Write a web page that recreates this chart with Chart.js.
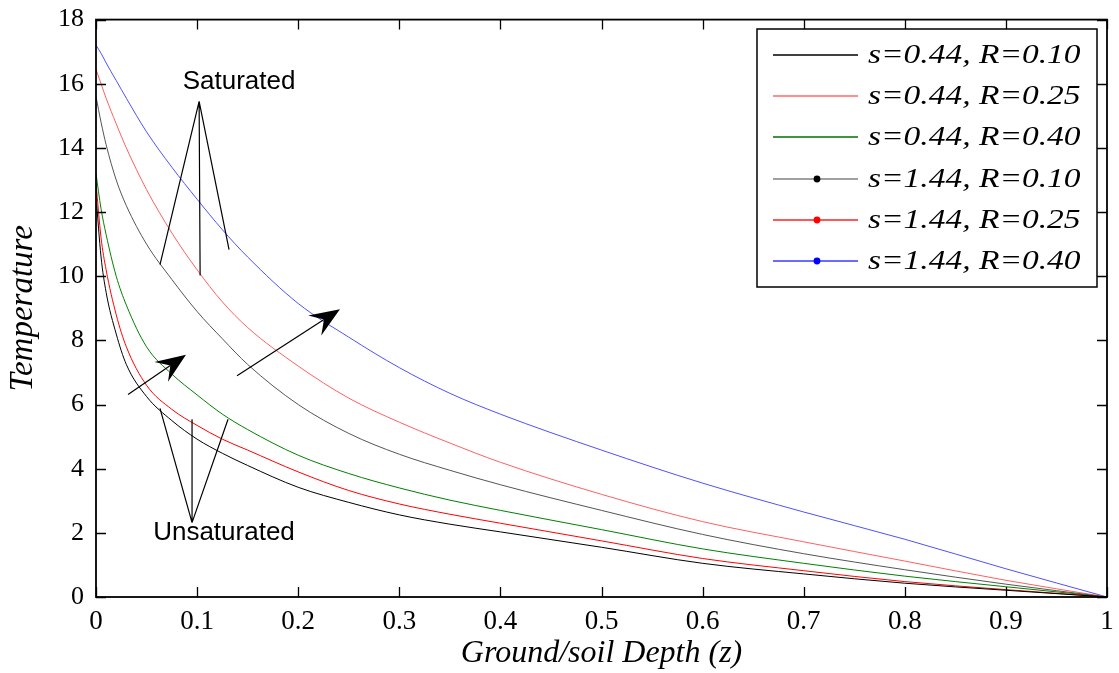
<!DOCTYPE html>
<html><head><meta charset="utf-8">
<script src="https://cdn.jsdelivr.net/npm/chart.js@4.4.1/dist/chart.umd.min.js"></script>
<style>html,body{margin:0;padding:0;background:#fff;} #wrap{width:1119px;height:673px;}</style>
</head><body><div id="wrap"><canvas id="c" width="1119" height="673"></canvas></div>
<script>
// ---- data ----
const depth = [0, 0.005, 0.01, 0.02, 0.03, 0.05, 0.075, 0.1, 0.125, 0.15, 0.2, 0.25, 0.3, 0.35, 0.4, 0.5, 0.6, 0.7, 0.8, 0.9, 1.0];
const s044_R010 = [12.5, 10.6, 9.5, 8.2, 7.25, 6.25, 5.5, 4.92, 4.48, 4.1, 3.42, 2.95, 2.56, 2.27, 2.03, 1.55, 1.05, 0.72, 0.43, 0.21, 0];
const s044_R025 = [12.9, 11.2, 10.2, 8.8, 7.8, 6.6, 5.85, 5.35, 4.92, 4.58, 3.9, 3.32, 2.9, 2.58, 2.3, 1.75, 1.2, 0.82, 0.48, 0.23, 0];
const s044_R040 = [13.2, 12.1, 11.3, 10.0, 9.1, 7.8, 6.95, 6.3, 5.7, 5.22, 4.42, 3.85, 3.4, 3.02, 2.7, 2.1, 1.5, 1.05, 0.65, 0.32, 0];
const s144_R010 = [15.6, 14.8, 14.1, 13.0, 12.2, 11.0, 9.9, 8.9, 8.05, 7.25, 6.0, 5.1, 4.45, 3.95, 3.5, 2.7, 1.95, 1.35, 0.85, 0.4, 0];
const s144_R025 = [16.45, 16.0, 15.55, 14.75, 14.0, 12.7, 11.35, 10.2, 9.2, 8.4, 7.2, 6.2, 5.45, 4.8, 4.2, 3.2, 2.35, 1.72, 1.12, 0.52, 0];
const s144_R040 = [17.2, 16.95, 16.65, 16.1, 15.55, 14.5, 13.4, 12.4, 11.45, 10.6, 9.15, 8.1, 7.15, 6.35, 5.7, 4.58, 3.55, 2.65, 1.8, 0.88, 0];
const seriesLabels = ["s=0.44, R=0.10", "s=0.44, R=0.25", "s=0.44, R=0.40", "s=1.44, R=0.10", "s=1.44, R=0.25", "s=1.44, R=0.40"];
const xTicks = [0, 0.1, 0.2, 0.3, 0.4, 0.5, 0.6, 0.7, 0.8, 0.9, 1];
const yTicks = [0, 2, 4, 6, 8, 10, 12, 14, 16, 18];

const seriesValues = [s044_R010, s044_R025, s044_R040, s144_R010, s144_R025, s144_R040];
const lineColors = ['#000000', '#ff0000', '#008000', '#555555', '#ff6060', '#5050ff'];
const legendColors = ['#000000', '#ff6a6a', '#007000', '#808080', '#ff2020', '#3a3aff'];
const legendDots = [null, null, null, '#000000', '#ff0000', '#0000ff'];

const datasets = seriesValues.map((vals, i) => ({
  label: seriesLabels[i],
  data: depth.map((d, j) => ({x: d, y: vals[j]})),
  borderColor: lineColors[i],
  borderWidth: 1,
  pointRadius: 0,
  fill: false,
  cubicInterpolationMode: 'monotone'
}));

function arrow(ctx, x1, y1, x2, y2) {
  const ang = Math.atan2(y2 - y1, x2 - x1);
  const len = 30, hw = 12, notch = 19;
  const bx = x2 - Math.cos(ang) * notch, by = y2 - Math.sin(ang) * notch;
  ctx.beginPath(); ctx.moveTo(x1, y1); ctx.lineTo(bx, by); ctx.stroke();
  const cx = x2 - Math.cos(ang) * len, cy = y2 - Math.sin(ang) * len;
  const nx = -Math.sin(ang), ny = Math.cos(ang);
  ctx.beginPath();
  ctx.moveTo(x2, y2);
  ctx.lineTo(cx + nx * hw, cy + ny * hw);
  ctx.lineTo(bx, by);
  ctx.lineTo(cx - nx * hw, cy - ny * hw);
  ctx.closePath(); ctx.fill();
}

const annoPlugin = {
  id: 'anno',
  afterDatasetsDraw(chart) {
    const {ctx, chartArea: a, scales: {x, y}} = chart;
    const P = (dx, dy) => [x.getPixelForValue(dx), y.getPixelForValue(dy)];
    ctx.save();
    // frame
    ctx.strokeStyle = '#000'; ctx.lineWidth = 1.8;
    ctx.strokeRect(a.left, a.top, a.right - a.left, a.bottom - a.top);
    ctx.lineWidth = 1.3;
    const L = 10;
    ctx.beginPath();
    xTicks.forEach(v => { const px = Math.round(x.getPixelForValue(v)) + 0.5;
      ctx.moveTo(px, a.bottom); ctx.lineTo(px, a.bottom - L);
      ctx.moveTo(px, a.top); ctx.lineTo(px, a.top + L); });
    yTicks.forEach(v => { const py = Math.round(y.getPixelForValue(v)) + 0.5;
      ctx.moveTo(a.left, py); ctx.lineTo(a.left + L, py);
      ctx.moveTo(a.right, py); ctx.lineTo(a.right - L, py); });
    ctx.stroke();
    // annotation lines
    ctx.lineWidth = 1.2; ctx.strokeStyle = '#000'; ctx.fillStyle = '#000';
    const fan = (apex, ends) => {
      const [ax, ay] = P(apex[0], apex[1]);
      ctx.beginPath();
      ends.forEach(e => { const [ex, ey] = P(e[0], e[1]); ctx.moveTo(ax, ay); ctx.lineTo(ex, ey); });
      ctx.stroke();
    };
    fan([0.102, 15.45], [[0.0633, 10.36], [0.103, 10.02], [0.1316, 10.83]]);
    fan([0.095, 2.32], [[0.0633, 5.88], [0.095, 5.54], [0.1306, 5.54]]);
    let p1 = P(0.0317, 6.31), p2 = P(0.089, 7.55);
    arrow(ctx, p1[0], p1[1], p2[0], p2[1]);
    p1 = P(0.1395, 6.9); p2 = P(0.2413, 8.97);
    arrow(ctx, p1[0], p1[1], p2[0], p2[1]);
    ctx.font = '26px "Liberation Sans", Arial, sans-serif';
    ctx.textAlign = 'center'; ctx.textBaseline = 'middle';
    let t = P(0.1415, 16.05); ctx.fillText('Saturated', t[0], t[1]);
    t = P(0.1266, 2.0); ctx.fillText('Unsaturated', t[0], t[1]);
    ctx.restore();
  },
  afterDraw(chart) {
    const ctx = chart.ctx;
    ctx.save();
    const bx = 757, by = 29, bw = 340, bh = 258;
    ctx.fillStyle = '#fff'; ctx.fillRect(bx, by, bw, bh);
    ctx.strokeStyle = '#000'; ctx.lineWidth = 1.5; ctx.strokeRect(bx, by, bw, bh);
    ctx.font = 'italic 27px "Liberation Serif", "Times New Roman", serif';
    ctx.textBaseline = 'middle'; ctx.textAlign = 'left';
    seriesLabels.forEach((lab, i) => {
      const cy = Math.round(55 + i * 41.2);
      ctx.strokeStyle = legendColors[i]; ctx.lineWidth = 1.6;
      ctx.beginPath(); ctx.moveTo(773, cy); ctx.lineTo(858, cy); ctx.stroke();
      if (legendDots[i]) { ctx.fillStyle = legendDots[i]; ctx.beginPath(); ctx.arc(817, cy, 3.4, 0, Math.PI * 2); ctx.fill(); }
      ctx.fillStyle = '#000';
      ctx.save();
      ctx.translate(868, cy + 1);
      ctx.scale(1.24, 1);
      ctx.fillText(lab, 0, 0);
      ctx.restore();
    });
    ctx.restore();
  }
};

new Chart(document.getElementById('c'), {
  type: 'line',
  data: {datasets},
  options: {
    responsive: false, animation: false,
    layout: {padding: {left: 0, right: 12, top: 15, bottom: 0}},
    plugins: {legend: {display: false}, tooltip: {enabled: false}},
    scales: {
      x: {
        type: 'linear', min: 0, max: 1,
        afterBuildTicks(s) { s.ticks = xTicks.map(v => ({value: v})); },
        ticks: {callback: v => String(Number(v.toFixed(1))), font: {family: '"Liberation Serif", serif', size: 27}, color: '#000', padding: 1, maxRotation: 0, autoSkip: false},
        grid: {display: false}, border: {display: false},
        title: {display: true, text: 'Ground/soil Depth (z)', font: {family: '"Liberation Serif", serif', size: 32, style: 'italic'}, color: '#000', padding: {top: 0, bottom: 0}},
        afterFit(s) { s.height = 76; }
      },
      y: {
        type: 'linear', min: 0, max: 18,
        afterBuildTicks(s) { s.ticks = yTicks.map(v => ({value: v})); },
        ticks: {font: {family: '"Liberation Serif", serif', size: 26}, color: '#000', padding: 4, autoSkip: false},
        grid: {display: false}, border: {display: false},
        title: {display: true, text: 'Temperature', font: {family: '"Liberation Serif", serif', size: 33, style: 'italic'}, color: '#000', padding: {top: 4, bottom: 0}},
        afterFit(s) { s.width = 96; }
      }
    }
  },
  plugins: [annoPlugin]
});
</script></body></html>
